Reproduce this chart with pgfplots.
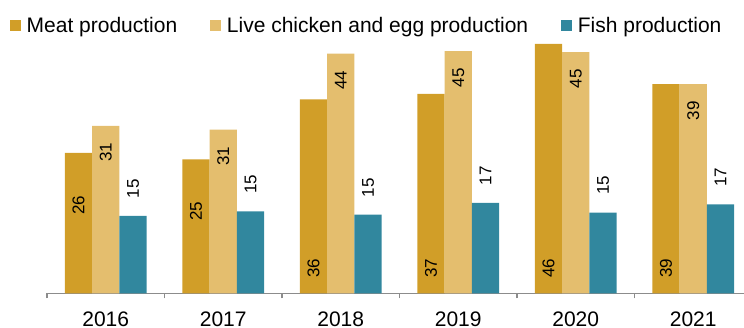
\documentclass[border=0pt]{standalone}
\usepackage{fontspec}
\setmainfont{Liberation Sans}
\usepackage{pgfplots}
\pgfplotsset{compat=1.18}
\definecolor{meat}{RGB}{209,158,40}
\definecolor{live}{RGB}{228,190,110}
\definecolor{fish}{RGB}{49,135,158}
\definecolor{axgray}{RGB}{140,140,140}
\begin{document}
\begin{tikzpicture}
\begin{axis}[
  name=ax,
  scale only axis, width=348.5pt, height=124.65pt,
  xmin=-0.5, xmax=5.432, ymin=0, ymax=46,
  axis x line*=bottom, axis y line=none,
  x axis line style={axgray, line width=0.6pt},
  ybar, bar width=0.2325,
  xtick={0,1,2,3,4,5}, xticklabels={2016,2017,2018,2019,2020,2021},
  major tick length=0pt,
  xticklabel style={font=\fontsize{10.5}{12}\selectfont, yshift=-5.5pt},
  extra x ticks={-0.5,0.5,1.5,2.5,3.5,4.5},
  extra x tick labels={},
  extra x tick style={major tick length=2.5pt, tick align=outside, tick style={axgray, line width=0.6pt}},
  legend columns=3,
  legend style={draw=none, fill=none, at={(-0.0531,1.109)}, anchor=north west,
    font=\fontsize{10.5}{12}\selectfont, inner sep=0pt, outer sep=0pt,
    nodes={inner sep=0pt},
    /tikz/every even column/.append style={column sep=16.5pt},
    /tikz/every odd column/.append style={column sep=2.85pt}},
  legend image code/.code={\fill[#1] (0pt,-2.75pt) rectangle (5.5pt,2.75pt);},
]
\addplot[fill=meat, draw=none, bar shift=-0.2325] coordinates {(0,25.9)(1,24.7)(2,35.8)(3,36.8)(4,46)(5,38.6)};
\addplot[fill=live, draw=none, bar shift=0] coordinates {(0,30.9)(1,30.2)(2,44.2)(3,44.7)(4,44.5)(5,38.6)};
\addplot[fill=fish, draw=none, bar shift=0.2325] coordinates {(0,14.3)(1,15.1)(2,14.5)(3,16.7)(4,14.9)(5,16.4)};
\legend{Meat production, Live chicken and egg production, Fish production}
% value labels
\addplot[draw=none, fill=none, bar shift=-0.2325, forget plot, nodes near coords, point meta=explicit symbolic,
  every node near coord/.append style={rotate=90, anchor=center, font=\fontsize{8.5}{10}\selectfont, inner sep=0pt}]
  coordinates {(0,16.2)[26] (1,15.1)[25] (2,4.6)[36] (3,4.6)[37] (4,4.6)[46] (5,4.6)[39]};
\addplot[draw=none, fill=none, bar shift=0, forget plot, nodes near coords, point meta=explicit symbolic,
  every node near coord/.append style={rotate=90, anchor=center, font=\fontsize{8.5}{10}\selectfont, inner sep=0pt}]
  coordinates {(0,26.0)[31] (1,25.3)[31] (2,39.3)[44] (3,39.8)[45] (4,39.6)[45] (5,33.7)[39]};
\addplot[draw=none, fill=none, bar shift=0.2325, forget plot, nodes near coords, point meta=explicit symbolic,
  every node near coord/.append style={rotate=90, anchor=center, font=\fontsize{8.5}{10}\selectfont, inner sep=0pt}]
  coordinates {(0,19.3)[15] (1,20.1)[15] (2,19.5)[15] (3,21.7)[17] (4,19.9)[15] (5,21.4)[17]};
\end{axis}
\pgfresetboundingbox
\path ([xshift=-23.5pt,yshift=-17.35pt]ax.south west) rectangle ([yshift=22pt]ax.north east);
\end{tikzpicture}
\end{document}
